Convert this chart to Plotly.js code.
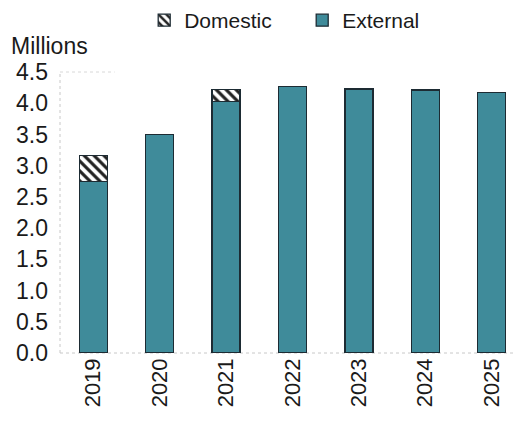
<!DOCTYPE html>
<html>
<head>
<meta charset="utf-8">
<script src="https://cdn.plot.ly/plotly-3.0.1.min.js"></script>
<style>html,body{margin:0;padding:0;background:#fff}#chart{width:515px;height:421px}</style>
</head>
<body>
<div id="chart"></div>
<script>
const years = ['2019','2020','2021','2022','2023','2024','2025'];
const external = [2.75, 3.50, 4.03, 4.27, 4.23, 4.21, 4.17];
const domestic = [0.41, null, 0.19, null, null, null, null];
const yTicks = [0, 0.5, 1, 1.5, 2, 2.5, 3, 3.5, 4, 4.5];
const yTickLabels = ['0.0','0.5','1.0','1.5','2.0','2.5','3.0','3.5','4.0','4.5'];

const fam = 'Liberation Sans, Arial, sans-serif';
const col = '#1a1a1a';
const teal = '#3f8b9a';
const edge = '#1d2b33';

const traces = [
  {type: 'bar', name: 'External', x: years, y: external, width: 0.42,
   marker: {color: teal, line: {color: edge, width: 1.3}}},
  {type: 'bar', name: 'Domestic', x: years, y: domestic, width: 0.42,
   marker: {color: '#ffffff', line: {color: edge, width: 1.3},
     pattern: {shape: '\\', fgcolor: '#222', bgcolor: '#ffffff', size: 7, solidity: 0.45}}}
];

const layout = {
  width: 515, height: 421,
  margin: {l: 60, r: 0, t: 72, b: 68},
  paper_bgcolor: '#fff', plot_bgcolor: '#fff',
  barmode: 'stack',
  font: {family: fam, size: 22, color: col},
  showlegend: true,
  legend: {orientation: 'h', traceorder: 'reversed', xref: 'container', yref: 'container',
    x: 0.28, xanchor: 'left', y: 1, yanchor: 'top', font: {family: fam, size: 21, color: col},
    entrywidth: 113, itemwidth: 30, bgcolor: 'rgba(0,0,0,0)'},
  xaxis: {type: 'category', range: [-0.5, 6.35], tickangle: -90, showgrid: false,
    showline: false, ticks: '', tickfont: {family: fam, size: 22, color: col}, fixedrange: true},
  yaxis: {range: [0, 4.5], tickvals: yTicks, ticktext: yTickLabels, showgrid: false,
    showline: false, zeroline: false,
    ticks: '', tickfont: {family: fam, size: 23, color: col}, ticklabelstandoff: 11},
  shapes: [
    {type: 'line', xref: 'paper', yref: 'paper', x0: 0, x1: 0, y0: 0, y1: 1,
     line: {color: '#c8c8c8', width: 1, dash: 'dot'}, layer: 'below'},
    {type: 'line', xref: 'paper', yref: 'paper', x0: 0, x1: 1, y0: 0, y1: 0,
     line: {color: '#c8c8c8', width: 1, dash: 'dot'}, layer: 'below'},
    {type: 'line', xref: 'paper', yref: 'paper', x0: 0, x1: 0.12, y0: 1, y1: 1,
     line: {color: '#d8d8d8', width: 1, dash: 'dot'}, layer: 'below'}
  ],
  annotations: [{text: 'Millions', xref: 'paper', yref: 'paper', x: 0, y: 1, xshift: -51, yshift: 26,
    xanchor: 'left', yanchor: 'middle', showarrow: false, font: {family: fam, size: 23, color: col}}]
};

Plotly.newPlot('chart', traces, layout, {displayModeBar: false, staticPlot: true});
</script>
</body>
</html>
